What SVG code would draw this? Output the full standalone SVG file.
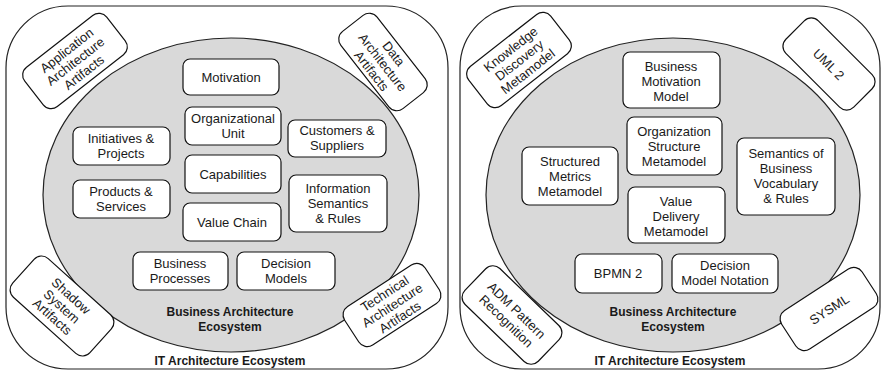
<svg xmlns="http://www.w3.org/2000/svg" width="884" height="374" viewBox="0 0 884 374">
<style>
.panel{fill:#fff;stroke:#222;stroke-width:1.2}
.eco{fill:#d9d9d9;stroke:#222;stroke-width:1.2}
.box{fill:#fff;stroke:#111;stroke-width:1.2}
text{font-family:"Liberation Sans",Arial,sans-serif;fill:#1a1a1a;text-anchor:middle}
.t{font-size:13px}
.b{font-size:12px;font-weight:bold}
</style>
<g id="left-panel">
<rect class="panel" x="6" y="6" width="442" height="363" rx="62" ry="62"/>
<ellipse class="eco" cx="231" cy="195" rx="188" ry="157"/>
<text class="b" x="230" y="316">Business Architecture</text>
<text class="b" x="230" y="331">Ecosystem</text>
<text class="b" x="230" y="365">IT Architecture Ecosystem</text>
</g>
<g id="right-panel">
<rect class="panel" x="460" y="6" width="420" height="363" rx="62" ry="62"/>
<ellipse class="eco" cx="673" cy="195" rx="187" ry="157"/>
<text class="b" x="673" y="316">Business Architecture</text>
<text class="b" x="673" y="331">Ecosystem</text>
<text class="b" x="670" y="365">IT Architecture Ecosystem</text>
</g>
<g id="motivation"><rect class="box" x="183" y="59" width="96" height="36" rx="7"/><text class="t" x="231" y="82">Motivation</text></g>
<g id="org-unit"><rect class="box" x="185" y="107" width="96" height="38" rx="7"/><text class="t" x="233" y="123">Organizational</text><text class="t" x="233" y="138">Unit</text></g>
<g id="capabilities"><rect class="box" x="185" y="155" width="96" height="38" rx="7"/><text class="t" x="233" y="179">Capabilities</text></g>
<g id="value-chain"><rect class="box" x="183" y="203" width="98" height="38" rx="7"/><text class="t" x="232" y="227">Value Chain</text></g>
<g id="customers"><rect class="box" x="288" y="120" width="98" height="37" rx="7"/><text class="t" x="337" y="135">Customers &amp;</text><text class="t" x="337" y="150">Suppliers</text></g>
<g id="information"><rect class="box" x="289" y="175" width="98" height="57" rx="7"/><text class="t" x="338" y="193">Information</text><text class="t" x="338" y="208">Semantics</text><text class="t" x="338" y="223">&amp; Rules</text></g>
<g id="initiatives"><rect class="box" x="73" y="127" width="97" height="38" rx="7"/><text class="t" x="121" y="143">Initiatives &amp;</text><text class="t" x="121" y="158">Projects</text></g>
<g id="products"><rect class="box" x="73" y="180" width="97" height="38" rx="7"/><text class="t" x="121" y="196">Products &amp;</text><text class="t" x="121" y="211">Services</text></g>
<g id="business-processes"><rect class="box" x="133" y="252" width="95" height="38" rx="7"/><text class="t" x="180" y="268">Business</text><text class="t" x="180" y="283">Processes</text></g>
<g id="decision-models"><rect class="box" x="237" y="252" width="98" height="38" rx="7"/><text class="t" x="286" y="268">Decision</text><text class="t" x="286" y="283">Models</text></g>
<g id="application-artifacts" transform="translate(75,61) rotate(-38)"><rect class="box" x="-52" y="-25" width="104" height="50" rx="10"/><text class="t" y="-9">Application</text><text class="t" y="5">Architecture</text><text class="t" y="19">Artifacts</text></g>
<g id="data-artifacts" transform="translate(383,62) rotate(52)"><rect class="box" x="-49" y="-23" width="98" height="46" rx="10"/><text class="t" y="-9">Data</text><text class="t" y="5">Architecture</text><text class="t" y="19">Artifacts</text></g>
<g id="shadow-artifacts" transform="translate(62,306) rotate(42)"><rect class="box" x="-52" y="-26" width="104" height="52" rx="10"/><text class="t" y="-9">Shadow</text><text class="t" y="5">System</text><text class="t" y="19">Artifacts</text></g>
<g id="technical-artifacts" transform="translate(392,305) rotate(-33)"><rect class="box" x="-48" y="-23" width="96" height="46" rx="10"/><text class="t" y="-9">Technical</text><text class="t" y="5">Architecture</text><text class="t" y="19">Artifacts</text></g>
<g id="bmm"><rect class="box" x="623" y="52" width="97" height="56" rx="7"/><text class="t" x="671" y="71">Business</text><text class="t" x="671" y="86">Motivation</text><text class="t" x="671" y="101">Model</text></g>
<g id="osm"><rect class="box" x="627" y="117" width="95" height="58" rx="7"/><text class="t" x="674" y="136">Organization</text><text class="t" x="674" y="151">Structure</text><text class="t" x="674" y="166">Metamodel</text></g>
<g id="vdm"><rect class="box" x="628" y="187" width="97" height="56" rx="7"/><text class="t" x="676" y="206">Value</text><text class="t" x="676" y="221">Delivery</text><text class="t" x="676" y="236">Metamodel</text></g>
<g id="smm"><rect class="box" x="522" y="147" width="96" height="58" rx="7"/><text class="t" x="570" y="166">Structured</text><text class="t" x="570" y="181">Metrics</text><text class="t" x="570" y="196">Metamodel</text></g>
<g id="sbvr"><rect class="box" x="737" y="138" width="98" height="77" rx="7"/><text class="t" x="786" y="158">Semantics of</text><text class="t" x="786" y="173">Business</text><text class="t" x="786" y="188">Vocabulary</text><text class="t" x="786" y="203">&amp; Rules</text></g>
<g id="bpmn"><rect class="box" x="575" y="254" width="87" height="39" rx="7"/><text class="t" x="618" y="278">BPMN 2</text></g>
<g id="dmn"><rect class="box" x="672" y="254" width="106" height="39" rx="7"/><text class="t" x="725" y="270">Decision</text><text class="t" x="725" y="285">Model Notation</text></g>
<g id="kdm" transform="translate(519,60) rotate(-38)"><rect class="box" x="-52" y="-25" width="104" height="50" rx="10"/><text class="t" y="-9">Knowledge</text><text class="t" y="5">Discovery</text><text class="t" y="19">Metamodel</text></g>
<g id="uml" transform="translate(829,64) rotate(45)"><rect class="box" x="-48" y="-23" width="96" height="46" rx="10"/><text class="t" y="5">UML 2</text></g>
<g id="adm" transform="translate(512,315) rotate(44)"><rect class="box" x="-51" y="-25" width="102" height="50" rx="10"/><text class="t" y="-2">ADM Pattern</text><text class="t" y="13">Recognition</text></g>
<g id="sysml" transform="translate(829,309) rotate(-33)"><rect class="box" x="-48" y="-23" width="96" height="46" rx="10"/><text class="t" y="5">SYSML</text></g>
<g id="connectors"/>
</svg>
